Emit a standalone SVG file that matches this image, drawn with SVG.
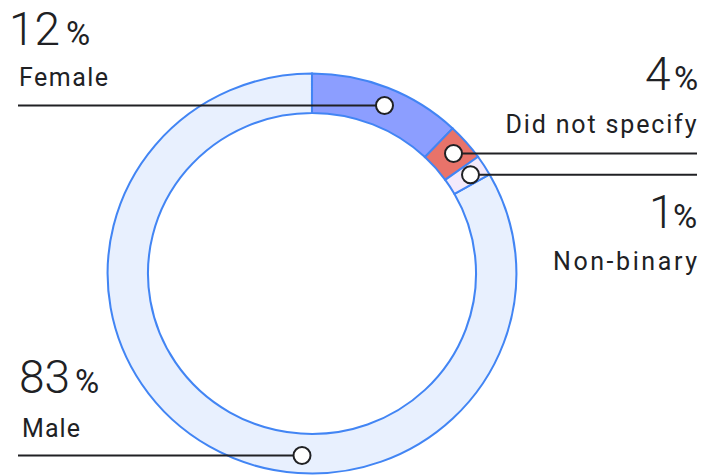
<svg xmlns="http://www.w3.org/2000/svg" width="715" height="475" viewBox="0 0 715 475">
<style>
.seg{stroke:#4285F4;stroke-width:2;stroke-linejoin:miter}
.num{font-family:Roboto,"Liberation Sans",sans-serif;font-weight:300;font-size:46px;fill:#202124}
.pct{font-family:Roboto,"Liberation Sans",sans-serif;font-weight:400;font-size:33px;fill:#202124}
.lbl{font-family:Roboto,"Liberation Sans",sans-serif;font-weight:400;font-size:25px;fill:#202124}
.lead{stroke:#202124;stroke-width:2;fill:none}
.dot{fill:#ffffff;stroke:#202124;stroke-width:2}
</style>
<rect width="715" height="475" fill="#ffffff"/>
<g id="ring" transform="translate(312,273.5) scale(1.022,1)">
  <g id="male-seg"><path class="seg" fill="#E8F0FE" d="M173.73,-99.09 A200,200 0 1 1 0,-200 L0,-160.5 A160.5,160.5 0 1 0 139.42,-79.52 Z"/></g>
  <g id="female-seg"><path class="seg" fill="#8C9EFF" d="M0,-200 A200,200 0 0 1 137.67,-145.07 L110.48,-116.42 A160.5,160.5 0 0 0 0,-160.5 Z"/></g>
  <g id="dns-seg"><path class="seg" fill="#E8736A" d="M137.67,-145.07 A200,200 0 0 1 162.42,-116.71 L130.34,-93.66 A160.5,160.5 0 0 0 110.48,-116.42 Z"/></g>
  <g id="nb-seg"><path class="seg" fill="#F3EAFB" d="M162.42,-116.71 A200,200 0 0 1 173.73,-99.09 L139.42,-79.52 A160.5,160.5 0 0 0 130.34,-93.66 Z"/></g>
</g>
<g id="connectors">
  <line class="lead" x1="18" y1="105.5" x2="384.5" y2="105.5"/>
  <line class="lead" x1="453.5" y1="153.5" x2="697" y2="153.5"/>
  <line class="lead" x1="470.5" y1="174.7" x2="697" y2="174.7"/>
  <line class="lead" x1="18" y1="455.5" x2="302" y2="455.5"/>
  <circle class="dot" cx="384.5" cy="105.5" r="8.5"/>
  <circle class="dot" cx="453.5" cy="153.5" r="8.5"/>
  <circle class="dot" cx="470.5" cy="174.7" r="8.5"/>
  <circle class="dot" cx="302" cy="455.5" r="8.5"/>
</g>
<g id="female">
  <text class="num" x="9" y="45">12</text><text class="pct" x="66" y="45">%</text>
  <text class="lbl" x="19" y="86" textLength="89" lengthAdjust="spacing">Female</text>
</g>
<g id="did-not-specify">
  <text class="num" x="645" y="90">4</text><text class="pct" x="674" y="90">%</text>
  <text class="lbl" x="505.5" y="132.5" textLength="191" lengthAdjust="spacing">Did not specify</text>
</g>
<g id="non-binary">
  <text class="num" x="649" y="228">1</text><text class="pct" x="673" y="228">%</text>
  <text class="lbl" x="553" y="270" textLength="144" lengthAdjust="spacing">Non-binary</text>
</g>
<g id="male">
  <text class="num" x="19" y="393">83</text><text class="pct" x="75" y="393">%</text>
  <text class="lbl" x="22" y="436.5" textLength="58" lengthAdjust="spacing">Male</text>
</g>
</svg>
